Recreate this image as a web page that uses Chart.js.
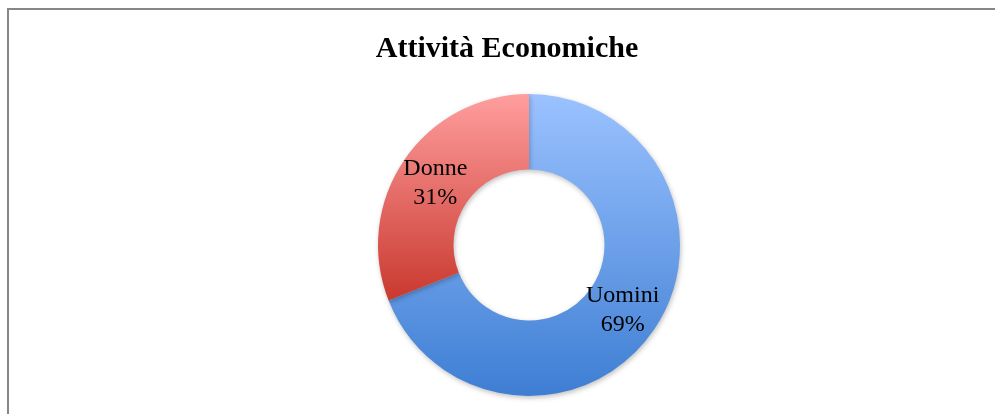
<!DOCTYPE html>
<html>
<head>
<meta charset="utf-8">
<script src="https://cdn.jsdelivr.net/npm/chart.js@4"></script>
<style>
  html, body { margin: 0; padding: 0; background: #fff; }
  #frame { position: absolute; left: 7px; top: 8px; width: 1100px; height: 500px; border: 2px solid #878787; }
  #wrap { position: absolute; left: 0; top: 0; width: 995px; height: 414px; }
</style>
</head>
<body>
<div id="frame"></div>
<div id="wrap"><canvas id="myDoughnut"></canvas></div>
<script>
var categories = ['Uomini', 'Donne'];
var values = [69, 31];
var chartTitle = 'Attività Economiche';

// top / bottom colours of each slice's gradient
var topColors = ['#9bc2ff', '#ff9e9e'];
var bottomColors = ['#3e7ed3', '#c9392f'];
// how far down the chart area each gradient runs
var gradientReach = [1, 0.68];

function sliceFill(context) {
    var chart = context.chart;
    var area = chart.chartArea;
    if (!area) return topColors[context.dataIndex];
    var i = context.dataIndex;
    var g = chart.ctx.createLinearGradient(0, area.top, 0, area.top + (area.bottom - area.top) * gradientReach[i]);
    g.addColorStop(0, topColors[i]);
    g.addColorStop(1, bottomColors[i]);
    return g;
}

// soft shadow under the ring, then the slice labels
var ringPlugin = {
    id: 'ring',
    afterLayout: function (chart) {
        // title sits a bit left of the ring centre
        if (chart.titleBlock) {
            chart.titleBlock.left -= 22;
            chart.titleBlock.right -= 22;
        }
    },
    beforeDatasetsDraw: function (chart) {
        var ctx = chart.ctx;
        ctx.save();
        ctx.shadowColor = 'rgba(0,0,0,0.25)';
        ctx.shadowBlur = 5;
        ctx.shadowOffsetX = 1;
        ctx.shadowOffsetY = 2;
    },
    afterDatasetsDraw: function (chart) {
        var ctx = chart.ctx;
        ctx.restore();
        var meta = chart.getDatasetMeta(0);
        var total = values.reduce(function (a, b) { return a + b; }, 0);
        ctx.save();
        ctx.font = '24px "Liberation Serif"';
        ctx.fillStyle = '#000';
        ctx.textAlign = 'center';
        ctx.textBaseline = 'middle';
        meta.data.forEach(function (arc, i) {
            var p = arc.tooltipPosition();
            var pct = Math.round(values[i] / total * 100) + '%';
            ctx.fillText(categories[i], p.x, p.y - 13);
            ctx.fillText(pct, p.x, p.y + 16);
        });
        ctx.restore();
    }
};

var config = {
    type: 'doughnut',
    data: {
        labels: categories,
        datasets: [{
            data: values,
            backgroundColor: sliceFill,
            borderWidth: 0,
            hoverOffset: 0
        }]
    },
    options: {
        responsive: true,
        maintainAspectRatio: false,
        animation: false,
        cutout: '50%',
        layout: {
            padding: { left: 63, right: 0, top: 0, bottom: 18 }
        },
        plugins: {
            legend: { display: false },
            tooltip: { enabled: false },
            title: {
                display: true,
                text: chartTitle,
                color: '#000',
                font: { family: '"Liberation Serif"', size: 30, weight: 'bold', lineHeight: 1.2 },
                padding: { top: 31, bottom: 27 }
            }
        }
    },
    plugins: [ringPlugin]
};

var ctx = document.getElementById('myDoughnut').getContext('2d');
var myDoughnut = new Chart(ctx, config);
</script>
</body>
</html>
